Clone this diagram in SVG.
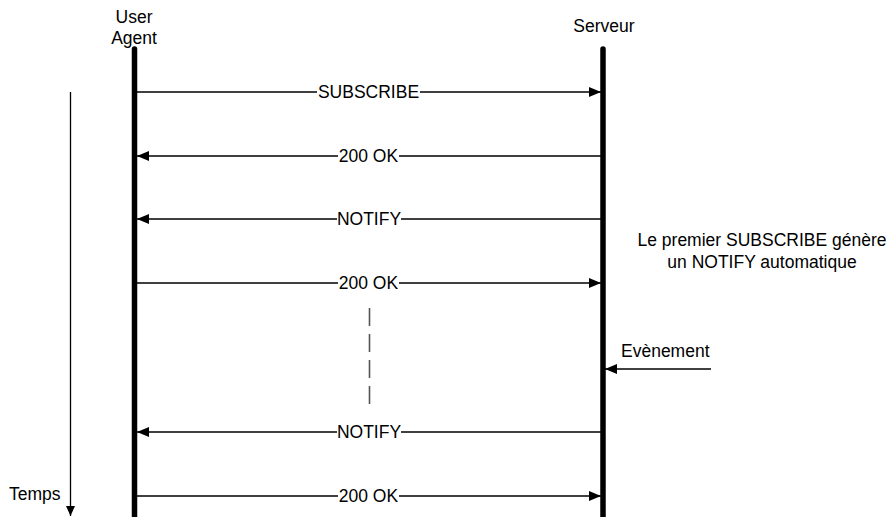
<svg xmlns="http://www.w3.org/2000/svg" width="893" height="517" viewBox="0 0 893 517">
<style>
text{font-family:"Liberation Sans",Arial,sans-serif;font-size:17.5px;fill:#000}
.lbl{text-anchor:middle}
.life{stroke:#000;stroke-width:5.5;stroke-linecap:round;fill:none}
.msg{stroke:#000;stroke-width:1.3;fill:none}
.bg{fill:#fff}
.dash{stroke:#555;stroke-width:1.6}
</style>
<defs>
<marker id="ah" markerWidth="12" markerHeight="10" refX="12" refY="5" orient="auto" markerUnits="userSpaceOnUse">
<path d="M0,0 L12,5 L0,10 Z" fill="#000"/>
</marker>
<marker id="ahs" markerWidth="10" markerHeight="10" refX="10" refY="4.5" orient="auto" markerUnits="userSpaceOnUse">
<path d="M0,0 L10,4.5 L0,9 Z" fill="#000"/>
</marker>
</defs>
<rect width="893" height="517" fill="#fff"/>
<g id="useragent">
<line class="life" x1="134.5" y1="49" x2="134.5" y2="520"/>
<text class="lbl" x="134" y="23">User</text>
<text class="lbl" x="134" y="44">Agent</text>
</g>
<g id="serveur">
<line class="life" x1="603" y1="49" x2="603" y2="520"/>
<text class="lbl" x="604" y="32">Serveur</text>
</g>
<g id="temps">
<line class="msg" x1="70.5" y1="92" x2="70.5" y2="516" marker-end="url(#ahs)"/>
<text x="9" y="500">Temps</text>
</g>
<g id="note">
<text class="lbl" x="762" y="246">Le premier SUBSCRIBE génère</text>
<text class="lbl" x="762" y="268">un NOTIFY automatique</text>
</g>
<g id="connectors">
<line class="msg" x1="137" y1="92" x2="601" y2="92" marker-end="url(#ah)"/>
<rect class="bg" x="317" y="82" width="103" height="20"/>
<text class="lbl" x="368.5" y="98">SUBSCRIBE</text>
<line class="msg" x1="601" y1="156" x2="137" y2="156" marker-end="url(#ah)"/>
<rect class="bg" x="338" y="146" width="61" height="20"/>
<text class="lbl" x="368.5" y="162">200 OK</text>
<line class="msg" x1="601" y1="219" x2="137" y2="219" marker-end="url(#ah)"/>
<rect class="bg" x="337" y="209" width="64" height="20"/>
<text class="lbl" x="369" y="225">NOTIFY</text>
<line class="msg" x1="137" y1="283" x2="601" y2="283" marker-end="url(#ah)"/>
<rect class="bg" x="338" y="273" width="61" height="20"/>
<text class="lbl" x="368.5" y="289">200 OK</text>
<line class="msg" x1="601" y1="432" x2="137" y2="432" marker-end="url(#ah)"/>
<rect class="bg" x="337" y="422" width="64" height="20"/>
<text class="lbl" x="369" y="438">NOTIFY</text>
<line class="msg" x1="137" y1="496" x2="601" y2="496" marker-end="url(#ah)"/>
<rect class="bg" x="338" y="486" width="61" height="20"/>
<text class="lbl" x="368.5" y="502">200 OK</text>
<line class="msg" x1="711" y1="369" x2="605" y2="369" marker-end="url(#ah)"/>
<text x="621" y="357">Evènement</text>
<line class="dash" x1="369.5" y1="308" x2="369.5" y2="326"/>
<line class="dash" x1="369.5" y1="334" x2="369.5" y2="352"/>
<line class="dash" x1="369.5" y1="360" x2="369.5" y2="378"/>
<line class="dash" x1="369.5" y1="386" x2="369.5" y2="404"/>
</g>
</svg>
